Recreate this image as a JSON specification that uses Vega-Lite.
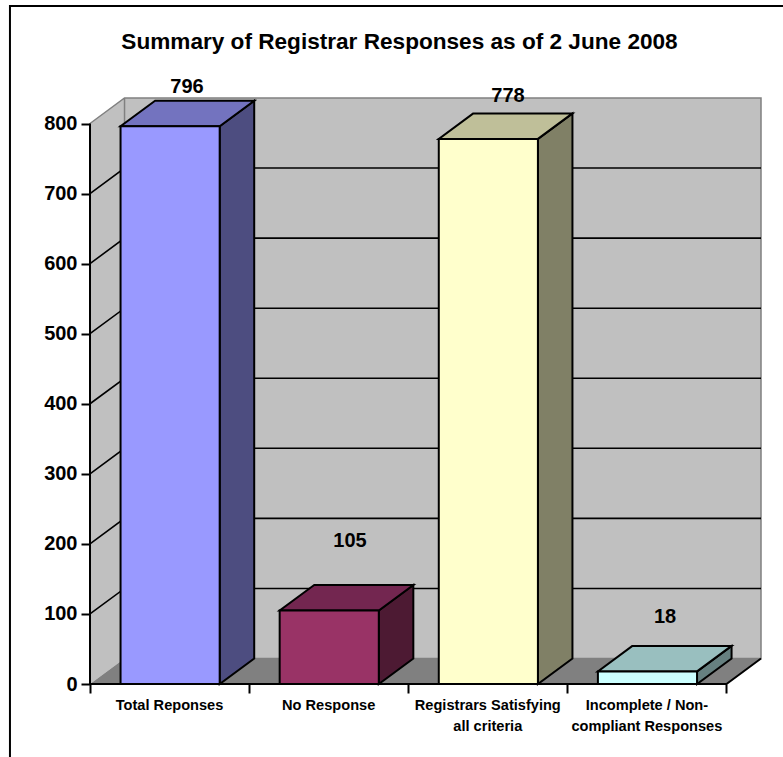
{
  "$schema": "https://vega.github.io/schema/vega-lite/v6.json",
  "width": 671,
  "height": 586,
  "autosize": {"type": "none"},
  "padding": {"left": 90, "top": 98, "right": 22, "bottom": 73},
  "background": "white",
  "title": {
    "text": "Summary of Registrar Responses as of 2 June 2008",
    "font": "Liberation Sans", "fontSize": 22.6, "fontWeight": "bold", "color": "#000000",
    "anchor": "middle", "dx": -26, "dy": 52, "offset": 0
  },
  "config": {"view": {"stroke": null}},
  "datasets": {
    "bars": [
      {"category": "Total Reponses", "slot": 0, "value": 796, "labelAt": 0.61, "labelLevel": 852},
      {"category": "No Response", "slot": 1, "value": 105, "labelAt": 1.634, "labelLevel": 204},
      {"category": "Registrars Satisfying\nall criteria", "slot": 2, "value": 778, "labelAt": 2.627, "labelLevel": 839},
      {"category": "Incomplete / Non-\ncompliant Responses", "slot": 3, "value": 18, "labelAt": 3.614, "labelLevel": 96}
    ],
    "grid": [{"level": 100}, {"level": 200}, {"level": 300}, {"level": 400}, {"level": 500}, {"level": 600}, {"level": 700}],
    "leftWall": [
      {"u": 0, "low": 0, "high": 800},
      {"u": 0.217, "low": 36.4, "high": 836.4}
    ],
    "floor": [
      {"v": 0, "from": 0, "to": 4},
      {"v": 36.4, "from": 0.217, "to": 4.217}
    ],
    "wallEdge": [
      {"u": 0, "v": 800},
      {"u": 0.217, "v": 836.4},
      {"u": 4.217, "v": 836.4},
      {"u": 4.217, "v": 36.4},
      {"u": 0.217, "v": 36.4},
      {"u": 0.217, "v": 836.4}
    ],
    "axisLines": [
      {"line": "frame", "order": 1, "u": -0.503, "v": -110},
      {"line": "frame", "order": 2, "u": -0.503, "v": 967.7},
      {"line": "frame", "order": 3, "u": 4.36, "v": 967.7},
      {"line": "value", "order": 1, "u": 0, "v": 800},
      {"line": "value", "order": 2, "u": 0, "v": 0},
      {"line": "value", "order": 3, "u": 4, "v": 0},
      {"line": "value", "order": 4, "u": 4.217, "v": 36.4}
    ]
  },
  "encoding": {
    "x": {"type": "quantitative", "scale": {"domain": [0, 4.217], "nice": false, "zero": false}},
    "y": {"type": "quantitative", "scale": {"domain": [0, 836.4], "nice": false, "zero": false}}
  },
  "layer": [
    {
      "data": {"name": "leftWall"},
      "mark": {"type": "area", "color": "#C0C0C0", "orient": "vertical"},
      "encoding": {
        "x": {"field": "u", "axis": {"values": [0, 1, 2, 3, 4], "title": null, "labels": false, "domain": false, "grid": false, "tickSize": 9, "tickWidth": 2, "tickColor": "#000000"}},
        "y": {"field": "high", "axis": {"values": [0, 100, 200, 300, 400, 500, 600, 700, 800], "title": null, "domain": false, "grid": false, "tickSize": 9, "tickWidth": 2, "tickColor": "#000000", "labelFont": "Liberation Sans", "labelFontSize": 20, "labelFontWeight": "bold", "labelColor": "#000000", "labelPadding": 4}},
        "y2": {"field": "low"}
      }
    },
    {
      "data": {"values": [{"from": 0.217, "to": 4.217, "low": 36.4, "high": 836.4}]},
      "mark": {"type": "rect", "color": "#C0C0C0"},
      "encoding": {"x": {"field": "from"}, "x2": {"field": "to"}, "y": {"field": "low"}, "y2": {"field": "high"}}
    },
    {
      "data": {"name": "floor"},
      "mark": {"type": "area", "color": "#808080", "orient": "horizontal"},
      "encoding": {"y": {"field": "v"}, "x": {"field": "from"}, "x2": {"field": "to"}}
    },
    {
      "data": {"name": "wallEdge"},
      "mark": {"type": "line", "color": "#808080", "strokeWidth": 1.5, "interpolate": "linear"},
      "encoding": {"x": {"field": "u"}, "y": {"field": "v"}, "order": {"value": null}}
    },
    {
      "data": {"name": "grid"},
      "transform": [
        {"calculate": "[0, 0.217, 4.217]", "as": "u"},
        {"flatten": ["u"]},
        {"calculate": "datum.u > 0 ? datum.level + 36.4 : datum.level", "as": "v"}
      ],
      "mark": {"type": "line", "color": "#000000", "strokeWidth": 1.6},
      "encoding": {"x": {"field": "u"}, "y": {"field": "v"}, "detail": {"field": "level"}}
    },
    {
      "data": {"name": "axisLines"},
      "mark": {"type": "line", "color": "#000000", "strokeWidth": 2},
      "encoding": {"x": {"field": "u"}, "y": {"field": "v"}, "detail": {"field": "line"}, "order": {"field": "order"}}
    },
    {
      "data": {"name": "bars"},
      "transform": [
        {"calculate": "[0, 0.217]", "as": "depth"},
        {"flatten": ["depth"]},
        {"calculate": "datum.slot + 0.815 + datum.depth", "as": "u"},
        {"calculate": "datum.value + datum.depth * 167.7", "as": "high"},
        {"calculate": "datum.depth * 167.7", "as": "low"}
      ],
      "mark": {"type": "area", "orient": "vertical", "stroke": "#000000", "strokeWidth": 2, "strokeJoin": "miter"},
      "encoding": {
        "x": {"field": "u"},
        "y": {"field": "high"},
        "y2": {"field": "low"},
        "color": {"field": "category", "legend": null, "scale": {"domain": ["Total Reponses", "No Response", "Registrars Satisfying\nall criteria", "Incomplete / Non-\ncompliant Responses"], "range": ["#4D4D80", "#4D1A33", "#808066", "#668080"]}}
      }
    },
    {
      "data": {"name": "bars"},
      "transform": [
        {"calculate": "[0, 0.217]", "as": "depth"},
        {"flatten": ["depth"]},
        {"calculate": "datum.slot + 0.192 + datum.depth", "as": "from"},
        {"calculate": "datum.slot + 0.815 + datum.depth", "as": "to"},
        {"calculate": "datum.value + datum.depth * 167.7", "as": "v"}
      ],
      "mark": {"type": "area", "orient": "horizontal", "stroke": "#000000", "strokeWidth": 2, "strokeJoin": "miter"},
      "encoding": {
        "y": {"field": "v"},
        "x": {"field": "from"},
        "x2": {"field": "to"},
        "color": {"field": "category", "legend": null, "scale": {"domain": ["Total Reponses", "No Response", "Registrars Satisfying\nall criteria", "Incomplete / Non-\ncompliant Responses"], "range": ["#7373BF", "#732650", "#BFBF99", "#99BFBF"]}}
      }
    },
    {
      "data": {"name": "bars"},
      "transform": [
        {"calculate": "datum.slot + 0.192", "as": "from"},
        {"calculate": "datum.slot + 0.815", "as": "to"}
      ],
      "mark": {"type": "rect", "stroke": "#000000", "strokeWidth": 2},
      "encoding": {
        "x": {"field": "from"},
        "x2": {"field": "to"},
        "y": {"field": "value"},
        "y2": {"datum": 0},
        "color": {"field": "category", "legend": null, "scale": {"domain": ["Total Reponses", "No Response", "Registrars Satisfying\nall criteria", "Incomplete / Non-\ncompliant Responses"], "range": ["#9999FF", "#993366", "#FFFFCC", "#CCFFFF"]}}
      }
    },
    {
      "data": {"name": "bars"},
      "mark": {"type": "text", "font": "Liberation Sans", "fontSize": 20, "fontWeight": "bold", "color": "#000000", "baseline": "middle", "align": "center"},
      "encoding": {"x": {"field": "labelAt"}, "y": {"field": "labelLevel"}, "text": {"field": "value"}}
    },
    {
      "data": {"name": "bars"},
      "transform": [
        {"calculate": "datum.slot + 0.5", "as": "middle"},
        {"calculate": "split(datum.category, '\\n')", "as": "lines"}
      ],
      "mark": {"type": "text", "font": "Liberation Sans", "fontSize": 14.6, "fontWeight": "bold", "color": "#000000", "baseline": "top", "align": "center", "lineHeight": 21},
      "encoding": {"x": {"field": "middle"}, "y": {"datum": -20.5}, "text": {"field": "lines"}}
    }
  ],
  "resolve": {"scale": {"color": "independent"}}
}
